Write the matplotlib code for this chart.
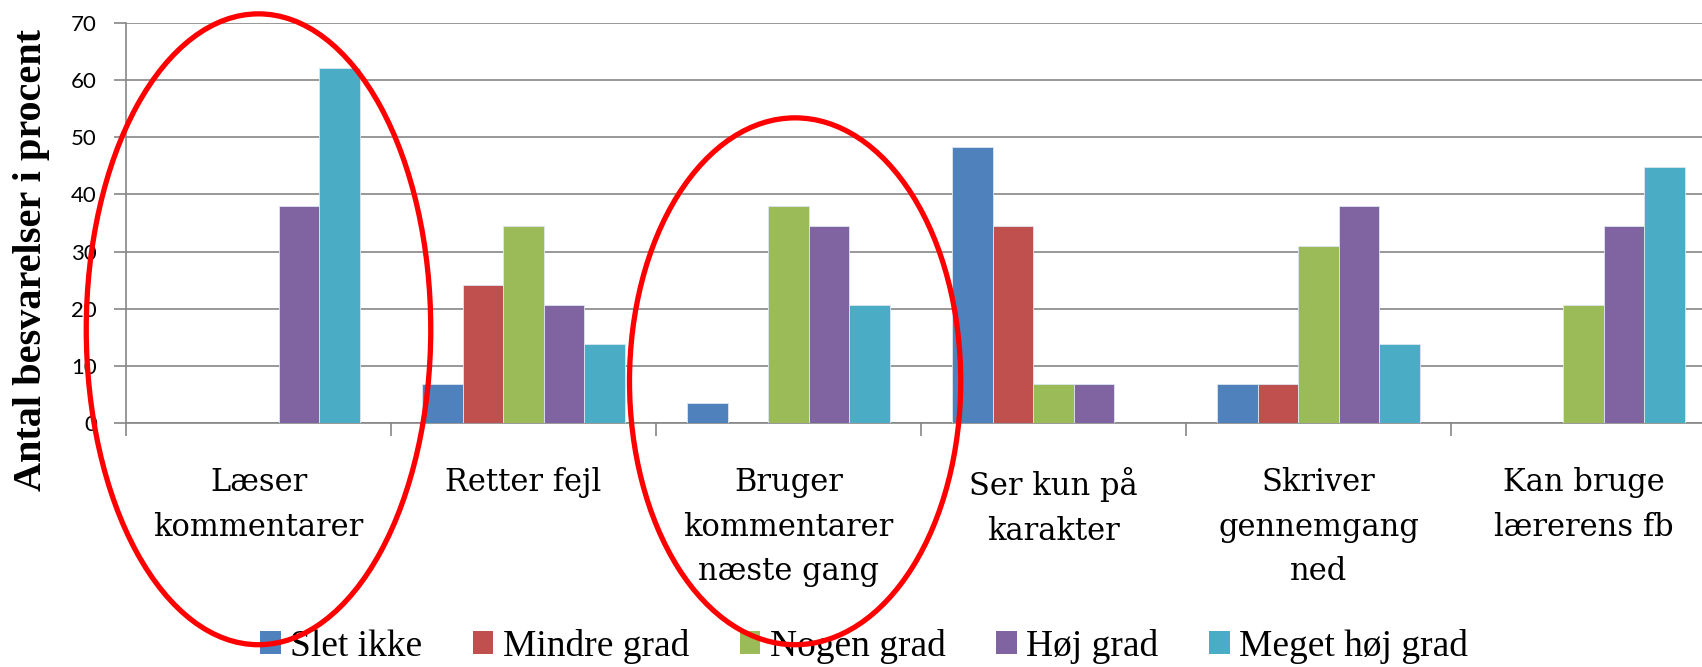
import numpy as np
import matplotlib
matplotlib.use("Agg")
import matplotlib.pyplot as plt
from matplotlib.patches import Patch, Ellipse

# data (percent of answers)
categories = ["Læser\nkommentarer", "Retter fejl", "Bruger\nkommentarer\nnæste gang",
              "Ser kun på\nkarakter", "Skriver\ngennemgang\nned", "Kan bruge\nlærerens fb"]
series_names = ["Slet ikke", "Mindre grad", "Nogen grad", "Høj grad", "Meget høj grad"]
slet_ikke = [0, 6.9, 3.45, 48.3, 6.9, 0]
mindre_grad = [0, 24.1, 0, 34.5, 6.9, 0]
nogen_grad = [0, 34.5, 37.9, 6.9, 31.0, 20.7]
hoej_grad = [37.9, 20.7, 34.5, 6.9, 37.9, 34.5]
meget_hoej_grad = [62.1, 13.8, 20.7, 0, 13.8, 44.8]
series = [slet_ikke, mindre_grad, nogen_grad, hoej_grad, meget_hoej_grad]
colors = ["#4F81BD", "#C0504D", "#9BBB59", "#8064A2", "#4BACC6"]
yticks = [0, 10, 20, 30, 40, 50, 60, 70]

# highlighted groups (category index, x shift, centre y, width, height in data units)
highlights = [(0, 0.0, 16.4, 1.30, 110.4), (2, 0.025, 7.3, 1.25, 92.2)]

fig = plt.figure(figsize=(17.02, 6.67), dpi=100, facecolor="white")
ax = fig.add_axes([126 / 1702, 244 / 667, 1590 / 1702, 400 / 667])

x = np.arange(len(categories))
w = 0.153
for i, (vals, col) in enumerate(zip(series, colors)):
    ax.bar(x + (i - 2) * w, vals, width=w, color=col, edgecolor="#dde6f0",
           linewidth=0.6, zorder=3)

ax.set_xlim(-0.5, len(categories) - 0.5)
ax.set_ylim(0, 70)
ax.set_yticks(yticks)
ax.set_yticklabels([str(t) for t in yticks], fontsize=16, family="Lato", color="black")
ax.yaxis.grid(True, color="#868686", linewidth=1.2, zorder=0)
ax.set_axisbelow(True)

ax.set_xticks(x)
ax.set_xticklabels(categories, fontsize=22, family="DejaVu Serif",
                   linespacing=1.55, va="top")
ax.set_xticks(np.arange(-0.5, len(categories)), minor=True)
ax.tick_params(axis="x", which="major", length=0, pad=32)
ax.tick_params(axis="x", which="minor", length=9, width=1.2, color="#868686")
ax.tick_params(axis="y", length=9, width=1.2, color="#868686", pad=12)

for s in ["top", "right"]:
    ax.spines[s].set_visible(False)
for s in ["left", "bottom"]:
    ax.spines[s].set_color("#868686")
    ax.spines[s].set_linewidth(1.2)

fig.text(32 / 1702, 1 - 260 / 667, "Antal besvarelser i procent", rotation=90,
         ha="center", va="center", fontsize=29, fontweight="bold",
         family="Liberation Serif")

handles = [Patch(facecolor=c, edgecolor="none") for c in colors]
fig.legend(handles, series_names, loc="center", bbox_to_anchor=(864 / 1702, 1 - 646 / 667),
           ncol=5, frameon=False, handlelength=0.55, handleheight=0.55,
           handletextpad=0.25, columnspacing=1.35,
           prop={"family": "Liberation Serif", "size": 27})

for idx, dx, cy, ew, eh in highlights:
    e = Ellipse((x[idx] + dx, cy), ew, eh, transform=ax.transData, fill=False,
                edgecolor="#FF0000", linewidth=3.8, zorder=10)
    fig.add_artist(e)

fig.savefig("out.png", dpi=100, facecolor="white")
